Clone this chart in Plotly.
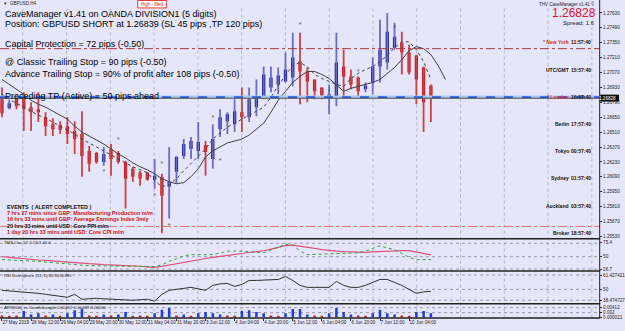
import plotly.graph_objects as go

# ---------------- data ----------------
bar_index = list(range(60))
opens = [1.26818, 1.26734, 1.26828, 1.26818, 1.26744, 1.26725, 1.26650, 1.26585, 1.26576, 1.26566,
         1.26520, 1.26492, 1.26333, 1.26314, 1.26230, 1.26352, 1.26314, 1.26230, 1.26165, 1.26128,
         1.26128, 1.26063, 1.26091, 1.25997, 1.26137, 1.26286, 1.26352, 1.26333, 1.26389, 1.26258,
         1.26538, 1.26613, 1.26585, 1.26697, 1.26650, 1.26744, 1.26846, 1.26930, 1.26958, 1.26986,
         1.27024, 1.27173, 1.27080, 1.27005, 1.26930, 1.26846, 1.26846, 1.27126, 1.27033, 1.27024,
         1.26912, 1.26977, 1.27126, 1.27164, 1.27303, 1.27350, 1.27257, 1.27229, 1.27117, 1.26949]
highs = [1.26930, 1.26809, 1.26865, 1.26884, 1.26790, 1.26884, 1.26697, 1.26641, 1.26613, 1.26650,
         1.26613, 1.26706, 1.26380, 1.26324, 1.26370, 1.26398, 1.26333, 1.26240, 1.26184, 1.26146,
         1.26137, 1.26258, 1.26118, 1.26370, 1.26286, 1.26445, 1.26464, 1.26604, 1.26426, 1.26585,
         1.26725, 1.26697, 1.26818, 1.26930, 1.26930, 1.27005, 1.27126, 1.27126, 1.27117, 1.27257,
         1.27443, 1.27443, 1.27117, 1.27005, 1.26930, 1.26958, 1.27443, 1.27285, 1.27098, 1.27033,
         1.26977, 1.27210, 1.27565, 1.27630, 1.27537, 1.27453, 1.27331, 1.27238, 1.27126, 1.26958]
lows = [1.26650, 1.26725, 1.26725, 1.26520, 1.26520, 1.26604, 1.26473, 1.26473, 1.26492, 1.26398,
        1.26305, 1.26091, 1.26137, 1.26212, 1.26193, 1.26100, 1.26212, 1.25792, 1.26044, 1.26007,
        1.26053, 1.25979, 1.25559, 1.25699, 1.26025, 1.26258, 1.26258, 1.26258, 1.26100, 1.26165,
        1.26464, 1.26492, 1.26510, 1.26510, 1.26604, 1.26660, 1.26818, 1.26884, 1.26865, 1.26977,
        1.26940, 1.26772, 1.26790, 1.26818, 1.26818, 1.26678, 1.26753, 1.26846, 1.26912, 1.26846,
        1.26884, 1.26884, 1.26977, 1.27098, 1.27285, 1.27052, 1.27052, 1.26772, 1.26510, 1.26604]
closes = [1.26688, 1.26781, 1.26753, 1.26725, 1.26697, 1.26697, 1.26566, 1.26538, 1.26529, 1.26492,
          1.26445, 1.26286, 1.26212, 1.26230, 1.26305, 1.26258, 1.26230, 1.26072, 1.26091, 1.26072,
          1.26063, 1.26100, 1.25913, 1.26044, 1.26277, 1.26398, 1.26426, 1.26417, 1.26324, 1.26445,
          1.26650, 1.26678, 1.26706, 1.26650, 1.26818, 1.26846, 1.27052, 1.27024, 1.27042, 1.27098,
          1.27210, 1.27080, 1.26986, 1.26893, 1.26856, 1.26865, 1.27164, 1.27033, 1.26958, 1.26893,
          1.26949, 1.27126, 1.27285, 1.27453, 1.27406, 1.27257, 1.27070, 1.27005, 1.26790, 1.26828]

ma_slow_index = list(range(62))
ma_slow = [1.27005, 1.26958, 1.26912, 1.26865, 1.26809, 1.26772, 1.26744, 1.26706, 1.26669, 1.26632,
           1.26566, 1.26510, 1.26473, 1.26436, 1.26398, 1.26352, 1.26305, 1.26268, 1.26221, 1.26184,
           1.26156, 1.26118, 1.26072, 1.26044, 1.26025, 1.26035, 1.26091, 1.26165, 1.26277, 1.26333,
           1.26370, 1.26408, 1.26426, 1.26445, 1.26482, 1.26538, 1.26594, 1.26697, 1.26809, 1.26893,
           1.26977, 1.27033, 1.27080, 1.27080, 1.27052, 1.27014, 1.26949, 1.26893, 1.26921, 1.26940,
           1.26958, 1.26977, 1.27005, 1.27061, 1.27117, 1.27191, 1.27275, 1.27313, 1.27294, 1.27238,
           1.27136, 1.27005]
ma_fast = [1.26865, 1.26818, 1.26781, 1.26744, 1.26706, 1.26669, 1.26641, 1.26604, 1.26566, 1.26529,
           1.26492, 1.26445, 1.26408, 1.26370, 1.26333, 1.26296, 1.26258, 1.26221, 1.26184, 1.26156,
           1.26128, 1.26053, 1.25997, 1.26016, 1.26072, 1.26146, 1.26212, 1.26277, 1.26352, 1.26445,
           1.26501, 1.26557, 1.26594, 1.26632, 1.26669, 1.26706, 1.26744, 1.26837, 1.26949, 1.27042,
           1.27136, 1.27164, 1.27126, 1.27052, 1.27014, 1.26986, 1.26958, 1.26940, 1.27014, 1.27061,
           1.27098, 1.27126, 1.27173, 1.27229, 1.27303, 1.27359, 1.27359, 1.27285, 1.27173, 1.27005]

fractal_bar = [14, 16, 21, 22, 23, 29, 30, 41, 45, 49, 51, 54]
fractal_price = [1.26137, 1.26436, 1.25904, 1.26212, 1.25624, 1.26641, 1.26240, 1.27518, 1.26883, 1.27070, 1.26858, 1.27490]

tms_red = [50, 48.6, 47.3, 46, 44.6, 43.9, 43.1, 42.4, 41.6, 40.9, 39.6, 38.4, 37.2, 36, 35.4, 35, 34.6, 34.2,
           33.6, 32.6, 31.6, 30.6, 32.5, 35, 37.4, 39.8, 42.2, 44.6, 46.6, 48.6, 50.6, 52.6, 54.3, 55.9, 57.5,
           59.1, 60.7, 63.8, 66.9, 70, 70.9, 69.3, 67.7, 65.2, 62.6, 60.8, 60, 59.2, 58.4, 57.6, 57.7, 58.5,
           59.3, 60, 60.8, 60.8, 60.8, 58, 54.9, 53.3]
tms_green = [44.6, 44.2, 43.7, 43.3, 42.8, 41.5, 40.1, 38.8, 37.5, 36.2, 34.9, 33.8, 33.5, 33.3, 33, 32.7, 32.4,
             32.1, 32, 32, 32, 32, 35, 41.5, 46, 51.5, 53.6, 53.6, 53.6, 53.6, 56.3, 60, 60.4, 59.6, 58.8, 58,
             57.3, 62, 67, 72.5, 71, 60, 53.6, 54.3, 55, 55.4, 55.8, 56.2, 56.5, 56.9, 60, 65, 69.8, 66, 62.6,
             56, 49, 44.6, 44.6, 44.6]
rsi_vals = [49, 48.5, 48, 47.5, 47, 46, 45, 44, 43, 42, 45, 40, 40.5, 41, 40.5, 40, 40, 39, 39, 39.5, 40, 38,
            45, 49, 50, 51, 52, 50.5, 49, 54, 55.5, 56, 53, 55, 59, 59, 59.5, 59.5, 60, 63, 59, 54, 52, 52,
            52, 52, 58, 54, 52, 52, 54, 57, 60, 60, 57, 54, 50, 46, 47.5, 48]
atr_blue = [0, 0, 0, .0027, .0013, .0018, 0, .0013, 0, .0018, .0030, .0036, 0, 0, .0013, 0, .0013, .0023,
            0, 0, 0, .0018, .0032, .0040, 0, .0013, 0, .0018, .0023, .0018, .0013, 0, 0, .0027, .0030, .0023,
            .0018, 0, 0, .0018, .0036, .0036, .0013, 0, 0, .0018, .0040, .0023, .0013, 0, 0, .0018, .0032,
            .0018, .0013, 0, 0, .0023, .0027, .0018]
atr_red = [.0009, .0008, .0009, 0, 0, 0, .0009, 0, .0008, 0, 0, 0, .0009, .0008, 0, .0009, 0, 0, .0008,
           .0009, .0008, 0, 0, 0, .0009, 0, .0008, 0, 0, 0, 0, .0009, .0008, 0, 0, 0, 0, .0009, .0008, 0,
           0, 0, 0, .0009, .0008, 0, 0, 0, 0, .0009, .0008, 0, 0, 0, 0, .0009, .0008, 0, 0, 0]

date_bars = [0, 4, 8, 12, 16, 20, 24, 28, 32, 36, 40, 44, 48, 52, 56]
date_labels = ["27 May 2019", "28 May 12:00", "29 May 04:00", "29 May 20:00", "30 May 12:00",
               "31 May 04:00", "31 May 20:00", "3 Jun 12:00", "4 Jun 04:00", "4 Jun 20:00",
               "5 Jun 12:00", "6 Jun 04:00", "6 Jun 20:00", "7 Jun 12:00", "10 Jun 04:00"]
price_ticks = [1.27630, 1.27490, 1.27350, 1.27210, 1.27070, 1.26930, 1.26790, 1.26650,
               1.26510, 1.26370, 1.26230, 1.26090, 1.25950, 1.25810, 1.25670, 1.25530]
bid_price = 1.26828
entry_price = 1.26839
protect_price = 1.27294
event_price = 1.25624

info_lines = ["CaveManager v1.41 on OANDA DIVISION1 (5 digits)",
              "Position: GBPUSD SHORT at 1.26839 (SL 45 pips ,TP 120 pips)",
              "Capital Protection = 72 pips (-0.50)",
              "@ Classic Trailing Stop = 90 pips (-0.50)",
              "Advance Trailing Stop = 90% of profit after 108 pips (-0.50)",
              "Preceding TP (Active) = 50 pips ahead"]
event_lines = ["EVENTS  ( ALERT COMPLETED )",
               "7 hrs 27 mins since GBP: Manufacturing Production m/m",
               "16 hrs 33 mins until GBP: Average Earnings Index 3m/y",
               "20 hrs 33 mins until USD: Core PPI m/m",
               "1 day 20 hrs 33 mins until USD: Core CPI m/m"]
event_flag = [0, 1, 1, 0, 1]
city_names = ["* New York", "UTC/GMT", "* London", "Berlin", "Tokyo", "Sydney", "Auckland", "Broker"]
city_times = ["11:57:40", "15:57:40", "16:57:40", "17:57:40", "00:57:40", "01:57:40", "03:57:40", "18:57:40"]

# ---------------- geometry helpers ----------------
W, H = 625, 331
BG = "#E6E6FA"
def py(y):
    return 1 - y / H
def pxx(x):
    return x / W

BAR0, STEP = 2.0, 7.34
XR = [(0 - BAR0) / STEP, (605 - BAR0) / STEP]
UP_BODY, UP_WICK = "#12128A", "#6A6AC8"
DN_BODY, DN_WICK = "#BE141C", "#D04040"

fig = go.Figure()

# wicks
for up in (True, False):
    xs, ys = [], []
    for i, o, h, l, c in zip(bar_index, opens, highs, lows, closes):
        if (c >= o) == up:
            xs += [i, i, None]
            ys += [l, h, None]
    fig.add_trace(go.Scatter(x=xs, y=ys, mode="lines", line=dict(color=UP_WICK if up else DN_WICK, width=1.8),
                             hoverinfo="skip", xaxis="x", yaxis="y"))
# bodies
fig.add_trace(go.Bar(x=bar_index, base=[min(o, c) for o, c in zip(opens, closes)],
                     y=[max(abs(c - o), 0.00003) for o, c in zip(opens, closes)],
                     width=0.45, marker=dict(color=[UP_BODY if c >= o else DN_BODY for o, c in zip(opens, closes)],
                                             line=dict(width=0)),
                     xaxis="x", yaxis="y", hoverinfo="skip"))
# moving averages
fig.add_trace(go.Scatter(x=ma_slow_index, y=ma_slow, mode="lines", line=dict(color="#404040", width=1),
                         xaxis="x", yaxis="y", hoverinfo="skip"))
fig.add_trace(go.Scatter(x=bar_index, y=ma_fast, mode="lines", line=dict(color="#404040", width=1, dash="dot"),
                         xaxis="x", yaxis="y", hoverinfo="skip"))
# fractals
fig.add_trace(go.Scatter(x=fractal_bar, y=fractal_price, mode="text", text=["*"] * len(fractal_bar),
                         textfont=dict(size=7, color="#606060", family="Liberation Sans"),
                         textposition="middle center", xaxis="x", yaxis="y", hoverinfo="skip"))
# TMS
fig.add_trace(go.Scatter(x=bar_index, y=tms_red, mode="lines", line=dict(color="#E0507A", width=1.2),
                         xaxis="x", yaxis="y2", hoverinfo="skip"))
fig.add_trace(go.Scatter(x=bar_index, y=tms_green, mode="lines", line=dict(color="#30A030", width=1, dash="dot"),
                         xaxis="x", yaxis="y2", hoverinfo="skip"))
# RSI
fig.add_trace(go.Scatter(x=bar_index, y=rsi_vals, mode="lines", line=dict(color="#303030", width=1),
                         xaxis="x", yaxis="y3", hoverinfo="skip"))
# ATR
fig.add_trace(go.Bar(x=bar_index, y=atr_blue, width=0.35, marker=dict(color="#1E3CE6", line=dict(width=0)),
                     xaxis="x", yaxis="y4", hoverinfo="skip"))
fig.add_trace(go.Bar(x=bar_index, y=atr_red, width=0.35, marker=dict(color="#C81E1E", line=dict(width=0)),
                     xaxis="x", yaxis="y4", hoverinfo="skip"))

shapes = []
# vertical dotted grid
for k in range(14):
    gx = (23 + 44.2 * k - BAR0) / STEP
    shapes.append(dict(type="line", xref="x", yref="paper", x0=gx, x1=gx, y0=py(320.5), y1=py(7),
                       line=dict(color="#B4B4C4", width=1, dash="dot"), layer="below"))
# horizontal dotted grids in sub windows
for yy in [245.5, 259, 271.5, 277.5, 292, 303, 310.5, 315.5]:
    shapes.append(dict(type="line", xref="paper", yref="paper", x0=0, x1=pxx(605), y0=py(yy), y1=py(yy),
                       line=dict(color="#9A9AAA", width=1, dash="dot"), layer="below"))
# price lines
shapes.append(dict(type="line", xref="paper", yref="y", x0=0, x1=pxx(605), y0=protect_price, y1=protect_price,
                   line=dict(color="#A83838", width=1, dash="dashdot")))
shapes.append(dict(type="line", xref="paper", yref="y", x0=0, x1=pxx(605), y0=event_price, y1=event_price,
                   line=dict(color="#E07070", width=1, dash="dashdot")))
shapes.append(dict(type="line", xref="paper", yref="y", x0=0, x1=pxx(605), y0=entry_price, y1=entry_price,
                   line=dict(color="#A8C8F0", width=3)))
shapes.append(dict(type="line", xref="paper", yref="y", x0=0, x1=pxx(605), y0=entry_price, y1=entry_price,
                   line=dict(color="#2A5AE0", width=1.6, dash="dash")))
shapes.append(dict(type="line", xref="paper", yref="y", x0=0, x1=pxx(605), y0=bid_price, y1=bid_price,
                   line=dict(color="#505050", width=1)))
# window separators and frame
for yy in [241, 273.5, 306.5, 321]:
    shapes.append(dict(type="line", xref="paper", yref="paper", x0=0, x1=pxx(606), y0=py(yy), y1=py(yy),
                       line=dict(color="#202020", width=1.5)))
shapes.append(dict(type="line", xref="paper", yref="paper", x0=pxx(605.5), x1=pxx(605.5), y0=py(321), y1=1,
                   line=dict(color="#202020", width=1)))
# current price box on axis
shapes.append(dict(type="rect", xref="paper", yref="paper", x0=pxx(606), x1=pxx(625), y0=py(102.5), y1=py(95.5),
                   fillcolor="#101010", line=dict(width=0)))
# High-Med box
shapes.append(dict(type="rect", xref="paper", yref="paper", x0=pxx(139), x1=pxx(168), y0=py(8), y1=py(0.5),
                   fillcolor="#FFFFFF", line=dict(color="#E04040", width=1)))

ann = []
def txt(x, y, s, size, color="#000000", bold=False, anchor="left", family="Liberation Sans"):
    ann.append(dict(x=pxx(x), y=py(y), xref="paper", yref="paper", text=("<b>%s</b>" % s) if bold else s,
                    showarrow=False, xanchor=anchor, yanchor="middle",
                    font=dict(size=size, color=color, family=family)))

txt(8, 4, "GBPUSD,H4", 4.5, "#202020")
txt(2, 4, "▾", 4.5, "#202020")
txt(153.5, 4.3, "High - Med", 4.5, "#E02020", anchor="center")
txt(603, 4, "THV CaveManager v1.41 ©", 4.5, "#202020", anchor="right")
txt(604, 13.5, "1.26828", 12, "#E0102A", anchor="right")
txt(603, 23.5, "Spread: 1.6", 6, "#202020", anchor="right")
txt(624, 99, "1.26828", 4.6, "#FFFFFF", anchor="right")

info_y = [14, 24.5, 44, 63, 75, 97]
for s, yy in zip(info_lines, info_y):
    txt(3, yy, s, 9, "#000000")

ev_y = [208.5, 215, 221.5, 228, 234.5]
for s, f, yy in zip(event_lines, event_flag, ev_y):
    txt(5, yy, s, 5.4, "#D01010" if f else "#101010", bold=True)

city_y = [42.5, 70.5, 98, 125, 152.5, 180, 208, 235]
for nm, tm, yy in zip(city_names, city_times, city_y):
    txt(577, yy, nm, 5, "#D03030" if nm.startswith("*") else "#101010", bold=True, anchor="right")
    txt(598.5, yy, tm, 5, "#101010", bold=True, anchor="right")

txt(2, 245, "TMS-Osc 57.2 53.3 44.6", 4.3, "#202020")
txt(2, 278, "RSI Divergence (13, 0) 45.5610385", 4.3, "#202020")
txt(2, 310.5, "ATR(500) vs CandleLength 0.00402 0.00439 0.00000", 4.3, "#202020")

tickfont = dict(size=4.6, color="#202020", family="Liberation Sans")
fig.update_layout(
    width=W, height=H, margin=dict(l=0, r=0, t=0, b=0),
    paper_bgcolor=BG, plot_bgcolor=BG, showlegend=False, barmode="overlay",
    shapes=shapes, annotations=ann,
    xaxis=dict(domain=[0, pxx(605)], range=XR, anchor="y4", tickvals=date_bars, ticktext=date_labels,
               tickangle=0, ticklabelposition="outside right", ticks="outside", ticklen=2, tickcolor="#303030",
               tickfont=tickfont, showgrid=False, zeroline=False, showline=False, fixedrange=True),
    yaxis=dict(domain=[py(240.5), 1], range=[1.255121, 1.277513], side="right", anchor="x",
               tickvals=price_ticks, ticktext=["%.5f" % p for p in price_ticks], ticks="outside", ticklen=2,
               tickcolor="#303030", tickfont=tickfont, showgrid=False, zeroline=False, showline=False),
    yaxis2=dict(domain=[py(272.5), py(241.5)], range=[25.7, 81.5], side="right", anchor="x",
                tickvals=[75.2, 50, 26.6], ticktext=["75.4", "50", "26.7"], ticks="outside", ticklen=2,
                tickcolor="#303030", tickfont=tickfont, showgrid=False, zeroline=False),
    yaxis3=dict(domain=[py(305.5), py(274.5)], range=[36.5, 67.5], side="right", anchor="x",
                tickvals=[64, 50, 39], ticktext=["61.427421", "50", "38.474727"], ticks="outside", ticklen=2,
                tickcolor="#303030", tickfont=tickfont, showgrid=False, zeroline=False),
    yaxis4=dict(domain=[py(320.5), py(307)], range=[0, 0.005535], side="right", anchor="x",
                tickvals=[0.00412, 0.0021, 0.0], ticktext=["0.00412", "0.002", "0.000021"], ticks="outside",
                ticklen=2, tickcolor="#303030", tickfont=tickfont, showgrid=False, zeroline=False),
)

fig.write_html("out.html")
